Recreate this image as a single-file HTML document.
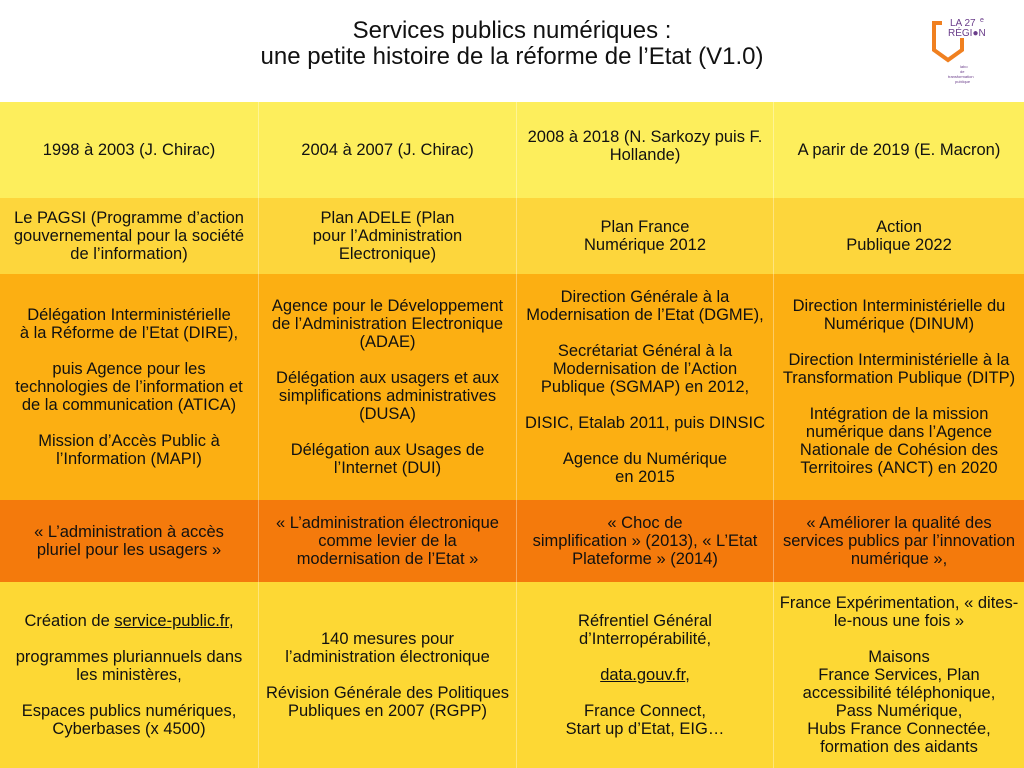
<!DOCTYPE html>
<html><head><meta charset="utf-8"><style>
body{margin:0;width:1024px;height:768px;overflow:hidden;background:#fff;font-family:"Liberation Sans",sans-serif;color:#111}
.title{position:absolute;top:18px;left:0;width:1024px;text-align:center;font-size:24px;line-height:26px;color:#111}
.cell{position:absolute;display:flex;align-items:center;justify-content:center;text-align:center;font-size:16.5px;line-height:18px;box-sizing:border-box;padding:0 2px;border-left:1px solid rgba(255,255,255,0.35)}
.cell>div{width:100%}
.r1{top:102px;height:96px;background:#fdee5c}
.r2{top:198px;height:76px;background:#fdd63c}
.r3{top:274px;height:226px;background:#fcaf12}
.r4{top:500px;height:82px;background:#f47a0c}
.r5{top:582px;height:186px;background:#fdd834}
.c1{left:0;width:258px;border-left:none}.c2{left:258px;width:258px}.c3{left:516px;width:257px}.c4{left:773px;width:251px}
u{text-decoration:underline}
</style></head><body>
<div class="title">Services publics numériques :<br>une petite histoire de la réforme de l’Etat (V1.0)</div>
<div style="position:absolute;left:930px;top:18px;width:70px;height:70px">
<svg width="70" height="70"><path d="M12 5 H4 V32 L18 42 L32 32 V20" fill="none" stroke="#f08020" stroke-width="4"/>
<text x="20" y="8" font-size="10" fill="#6a3d8a" font-family="Liberation Sans">LA 27</text><text x="50" y="4" font-size="7" fill="#6a3d8a">e</text>
<text x="18" y="18" font-size="10" fill="#6a3d8a" font-family="Liberation Sans">RÉGI●N</text>
<text x="30" y="50" font-size="4" fill="#6a3d8a">labo</text><text x="30" y="55" font-size="4" fill="#6a3d8a">de</text>
<text x="18" y="60" font-size="4" fill="#6a3d8a">transformation</text><text x="25" y="65" font-size="4" fill="#6a3d8a">publique</text></svg></div>

<div class="cell r1 c1"><div>1998 à 2003 (J. Chirac)</div></div>
<div class="cell r1 c2"><div>2004 à 2007 (J. Chirac)</div></div>
<div class="cell r1 c3" style="padding-bottom:8px"><div>2008 à 2018 (N. Sarkozy puis F.<br>Hollande)</div></div>
<div class="cell r1 c4"><div>A parir de 2019 (E. Macron)</div></div>

<div class="cell r2 c1"><div>Le PAGSI (Programme d’action<br>gouvernemental pour la société<br>de l’information)</div></div>
<div class="cell r2 c2"><div>Plan ADELE (Plan<br>pour l’Administration<br>Electronique)</div></div>
<div class="cell r2 c3"><div>Plan France<br>Numérique 2012</div></div>
<div class="cell r2 c4"><div>Action<br>Publique 2022</div></div>

<div class="cell r3 c1"><div>Délégation Interministérielle<br>à la Réforme de l’Etat (DIRE),<br><br>puis Agence pour les<br>technologies de l’information et<br>de la communication (ATICA)<br><br>Mission d’Accès Public à<br>l’Information (MAPI)</div></div>
<div class="cell r3 c2"><div>Agence pour le Développement<br>de l’Administration Electronique<br>(ADAE)<br><br>Délégation aux usagers et aux<br>simplifications administratives<br>(DUSA)<br><br>Délégation aux Usages de<br>l’Internet (DUI)</div></div>
<div class="cell r3 c3"><div>Direction Générale à la<br>Modernisation de l’Etat (DGME),<br><br>Secrétariat Général à la<br>Modernisation de l’Action<br>Publique (SGMAP) en 2012,<br><br>DISIC, Etalab 2011, puis DINSIC<br><br>Agence du Numérique<br>en 2015</div></div>
<div class="cell r3 c4"><div>Direction Interministérielle du<br>Numérique (DINUM)<br><br>Direction Interministérielle à la<br>Transformation Publique (DITP)<br><br>Intégration de la mission<br>numérique dans l’Agence<br>Nationale de Cohésion des<br>Territoires (ANCT) en 2020</div></div>

<div class="cell r4 c1"><div>« L’administration à accès<br>pluriel pour les usagers »</div></div>
<div class="cell r4 c2"><div>« L’administration électronique<br>comme levier de la<br>modernisation de l’Etat »</div></div>
<div class="cell r4 c3"><div>« Choc de<br>simplification » (2013), « L’Etat<br>Plateforme » (2014)</div></div>
<div class="cell r4 c4"><div>« Améliorer la qualité des<br>services publics par l’innovation<br>numérique »,</div></div>

<div class="cell r5 c1"><div>Création de <u>service-public.fr</u>,<br><br>programmes pluriannuels dans<br>les ministères,<br><br>Espaces publics numériques,<br>Cyberbases (x 4500)</div></div>
<div class="cell r5 c2"><div>140 mesures pour<br>l’administration électronique<br><br>Révision Générale des Politiques<br>Publiques en 2007 (RGPP)</div></div>
<div class="cell r5 c3"><div>Réfrentiel Général<br>d’Interropérabilité,<br><br><u>data.gouv.fr</u>,<br><br>France Connect,<br>Start up d’Etat, EIG…</div></div>
<div class="cell r5 c4"><div>France Expérimentation, « dites-<br>le-nous une fois »<br><br>Maisons<br>France Services, Plan<br>accessibilité téléphonique,<br>Pass Numérique,<br>Hubs France Connectée,<br>formation des aidants</div></div>
</body></html>
